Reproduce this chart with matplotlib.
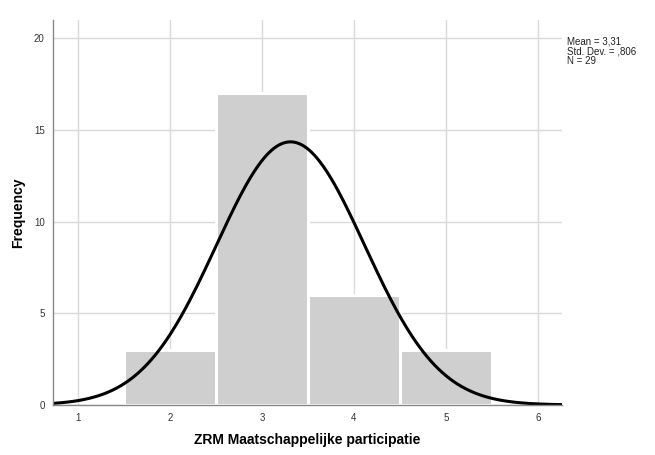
import numpy as np
import matplotlib.pyplot as plt

# histogram data
categories = [2, 3, 4, 5]
counts = [3, 17, 6, 3]
mean = 3.31
std_dev = 0.806
n = 29
x_ticks = [1, 2, 3, 4, 5, 6]
y_ticks = [0, 5, 10, 15, 20]

plt.rcParams['font.family'] = ['Liberation Sans', 'DejaVu Sans']

fig = plt.figure(figsize=(6.55, 4.55), dpi=100)
ax = fig.add_axes([0.081, 0.11, 0.777, 0.846])

ax.bar(categories, counts, width=1.0, color='#cfcfcf', edgecolor='white',
       linewidth=2.2, zorder=2)

xlim = (0.73, 6.26)
xs = np.linspace(xlim[0], xlim[1], 400)
ys = n * 1.0 / (std_dev * np.sqrt(2 * np.pi)) * np.exp(-0.5 * ((xs - mean) / std_dev) ** 2)
ax.plot(xs, ys, color='black', linewidth=2.2, zorder=3)

ax.set_xlim(*xlim)
ax.set_ylim(0, 21)
ax.set_xticks(x_ticks)
ax.set_yticks(y_ticks)
ax.grid(True, color='#d9d9d9', linewidth=1.0, zorder=0)
ax.set_axisbelow(True)
ax.tick_params(length=0, labelsize=7, labelcolor='#333333', pad=6)

for s in ['top', 'right']:
    ax.spines[s].set_visible(False)
for s in ['left', 'bottom']:
    ax.spines[s].set_color('#888888')
    ax.spines[s].set_linewidth(1.0)
    ax.spines[s].set_zorder(4)

ax.set_xlabel('ZRM Maatschappelijke participatie', fontsize=10, fontweight='bold')
ax.set_ylabel('Frequency', fontsize=10, fontweight='bold')
ax.xaxis.set_label_coords(0.5, -0.092)
ax.yaxis.set_label_coords(-0.069, 0.5)
ax.xaxis.label.set_va('center')
ax.yaxis.label.set_va('center')

fig.text(0.866, 0.92, f'Mean = {mean:.2f}'.replace('.', ',') + '\nStd. Dev. = ,806\nN = ' + str(n),
         fontsize=7, va='top', ha='left', linespacing=1.0, color='#222222')

fig.savefig('out.png', dpi=100)
